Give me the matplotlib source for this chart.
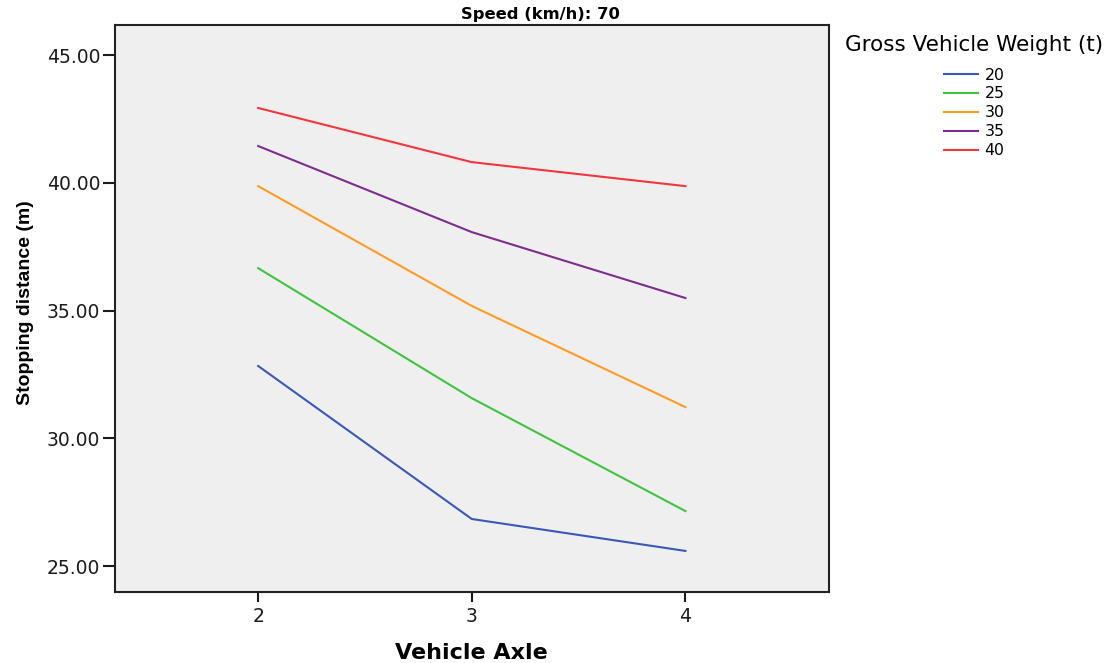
import matplotlib
matplotlib.use("Agg")
import matplotlib.pyplot as plt

axles = [2, 3, 4]
weights = ["20", "25", "30", "35", "40"]
dist_20 = [32.83, 26.84, 25.59]
dist_25 = [36.66, 31.57, 27.15]
dist_30 = [39.87, 35.18, 31.22]
dist_35 = [41.44, 38.07, 35.49]
dist_40 = [42.93, 40.81, 39.87]
series = [dist_20, dist_25, dist_30, dist_35, dist_40]
colors = ["#3b57b8", "#3fc43f", "#ff9b22", "#7d2e8c", "#f2363c"]

plt.rcParams['font.family'] = ['DejaVu Sans']

fig = plt.figure(figsize=(11.08, 6.63), dpi=100)
ax = fig.add_axes([0.1038, 0.107, 0.644, 0.855])
ax.set_facecolor("#efefef")

for w, vals, c in zip(weights, series, colors):
    ax.plot(axles, vals, color=c, lw=1.5, label=w)

ax.set_xlim(1.33, 4.67)
ax.set_ylim(23.98, 46.17)
ax.set_xticks(axles)
ax.set_yticks([25, 30, 35, 40, 45])
ax.set_yticklabels(["25.00", "30.00", "35.00", "40.00", "45.00"])
ax.tick_params(direction="out", width=1.5, labelsize=13.5, colors="#1a1a1a")
ax.tick_params(axis="y", length=9, pad=1.5)
ax.tick_params(axis="x", length=7, pad=4)
for s in ax.spines.values():
    s.set_linewidth(1.5)
    s.set_color("#222222")

# title sits centred on the whole chart, not on the axes
fig.text(0.488, 1 - 14 / 663, "Speed (km/h): 70", fontsize=11.8,
         fontweight="bold", ha="center", va="center")

ax.set_xlabel("Vehicle Axle", fontsize=16, fontweight="bold")
ax.xaxis.set_label_coords(0.5, -0.09)
ax.set_ylabel("Stopping distance (m)", fontsize=14, fontweight="bold",
              family=["Liberation Sans", "DejaVu Sans"])
ax.yaxis.set_label_coords(-0.114, 0.51)

leg = ax.legend(title="Gross Vehicle Weight (t)", loc="upper center",
                bbox_to_anchor=(974 / 1108, 1 - 35 / 663),
                bbox_transform=fig.transFigure, frameon=False, fontsize=11.3,
                title_fontsize=15.5, handlelength=2.2, handletextpad=0.4,
                labelspacing=0.25, borderpad=0, borderaxespad=0)
leg._legend_box.align = "center"
leg._legend_box.sep = 9

fig.savefig("out.png", dpi=100)
